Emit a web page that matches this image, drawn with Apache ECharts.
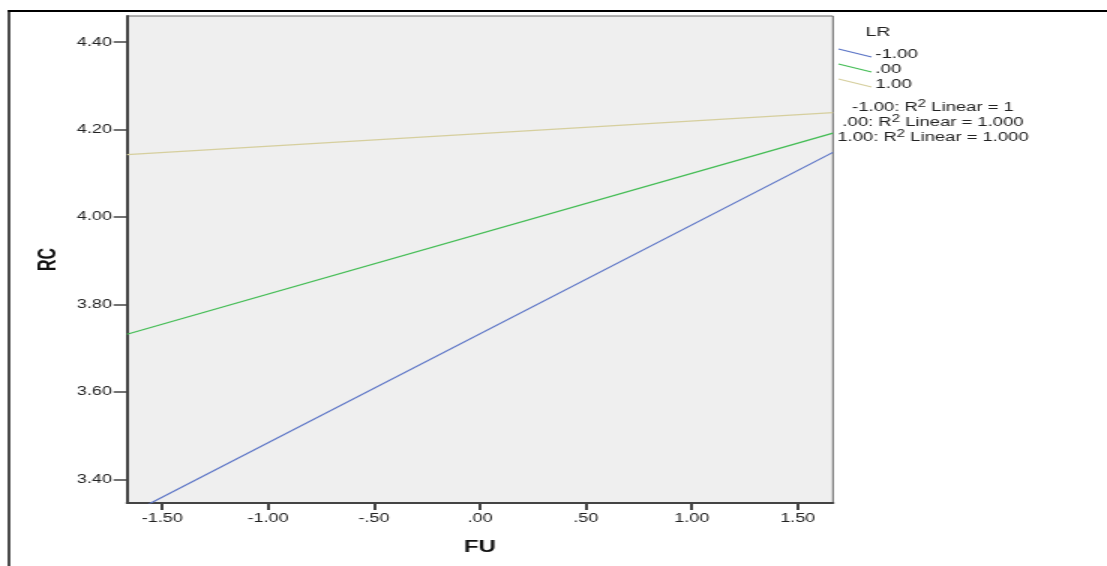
<!DOCTYPE html>
<html>
<head>
<meta charset="utf-8">
<script src="https://cdn.jsdelivr.net/npm/echarts@6/dist/echarts.min.js"></script>
<style>
  html, body { margin: 0; padding: 0; background: #fff; overflow: hidden; }
  /* the source picture is stretched sideways by about 1.5, so draw narrow and stretch */
  #chart { width: 738px; height: 566px; transform: scaleX(1.5); transform-origin: 0 0; }
</style>
</head>
<body>
<div id="chart"></div>
<script>
// FU range (x) and fitted RC values at each end, per LR level
var fuRange = [-1.666, 1.666]
var lrNames = ['-1.00', '.00', '1.00']
var rcLow = [3.318, 4.148]   // LR = -1.00
var rcMid = [3.732, 4.192]   // LR = .00
var rcHigh = [4.143, 4.239]  // LR = 1.00
var lineColors = ['#5b74c6', '#44bd55', '#d6cf9e']
var r2Labels = ['-1.00: R{s|2} Linear = 1', '.00: R{s|2} Linear = 1.000', '1.00: R{s|2} Linear = 1.000']

var xTicks = [-1.5, -1, -0.5, 0, 0.5, 1, 1.5]
var yTicks = [3.4, 3.6, 3.8, 4.0, 4.2, 4.4]
var yMin = 3.346
var yMax = 4.46

// SPSS style: 0.50 -> .50, -0.50 -> -.50
function spssFmt(v) {
  var s = Math.abs(v).toFixed(2)
  if (s.charAt(0) === '0') s = s.slice(1)
  return (v < 0 ? '-' : '') + s
}

function pairs(ys) {
  return fuRange.map(function(x, i) { return [x, ys[i]] })
}

var chart = echarts.init(document.getElementById('chart'))
var font = '"Liberation Sans", Arial, sans-serif'

var seriesData = [rcLow, rcMid, rcHigh]
var series = seriesData.map(function(d, i) {
  return {
    name: lrNames[i],
    type: 'line',
    data: pairs(d),
    showSymbol: false,
    clip: true,
    silent: true,
    lineStyle: { color: lineColors[i], width: 1.2 }
  }
})

// outer frame + hand drawn legend (slanted line keys like the SPSS output)
var graphics = [
  { type: 'line', shape: { x1: 6, y1: 10, x2: 6, y2: 566 }, style: { stroke: '#000', lineWidth: 1.4 } },
  { type: 'line', shape: { x1: 5.3, y1: 11, x2: 738, y2: 11 }, style: { stroke: '#000', lineWidth: 2 } },
  { type: 'text', x: 577, y: 32, style: { text: 'LR', font: '13px ' + font, fill: '#222', verticalAlign: 'middle' } }
]
lrNames.forEach(function(n, i) {
  var y0 = 49 + i * 15
  graphics.push({ type: 'line', shape: { x1: 559, y1: y0, x2: 581, y2: y0 + 8 }, style: { stroke: lineColors[i], lineWidth: 1.2 } })
  graphics.push({ type: 'text', x: 583.5, y: 55 + i * 15, style: { text: n, font: '12.5px ' + font, fill: '#222', verticalAlign: 'middle' } })
})
r2Labels.forEach(function(t, i) {
  graphics.push({
    type: 'text', x: 622, y: 108 + i * 15,
    style: {
      text: t, font: '12.3px ' + font, fill: '#222', align: 'center', verticalAlign: 'middle',
      rich: { s: { fontSize: 10, fontFamily: font, fill: '#222', padding: [0, 0, 7, 0] } }
    }
  })
})

var option = {
  animation: false,
  backgroundColor: '#fff',
  textStyle: { fontFamily: font },
  grid: {
    left: 84.7, top: 16, right: 182.7, bottom: 63,
    show: true, backgroundColor: '#efefef', borderColor: '#666', borderWidth: 1
  },
  xAxis: {
    type: 'value',
    min: fuRange[0],
    max: fuRange[1],
    name: 'FU',
    nameLocation: 'middle',
    nameGap: 37,
    nameTextStyle: { fontSize: 16, fontWeight: 'bold', color: '#111' },
    axisLine: { show: true, onZero: false, lineStyle: { color: '#444', width: 2 } },
    axisTick: { show: true, length: 7, customValues: xTicks, lineStyle: { color: '#444', width: 2 } },
    axisLabel: { customValues: xTicks, formatter: spssFmt, fontSize: 12, color: '#222', margin: 10 },
    splitLine: { show: false }
  },
  yAxis: {
    type: 'value',
    min: yMin,
    max: yMax,
    name: 'RC',
    nameLocation: 'middle',
    nameRotate: 90,
    nameGap: 41,
    nameTextStyle: { fontSize: 16, fontWeight: 'bold', color: '#111' },
    axisLine: { show: true, onZero: false, lineStyle: { color: '#444', width: 2 } },
    axisTick: { show: true, length: 9, customValues: yTicks, lineStyle: { color: '#444', width: 1.5 } },
    axisLabel: { customValues: yTicks, formatter: function(v) { return v.toFixed(2) }, fontSize: 12, color: '#222', margin: 10 },
    splitLine: { show: false }
  },
  graphic: graphics,
  series: series
}
chart.setOption(option)
</script>
</body>
</html>
